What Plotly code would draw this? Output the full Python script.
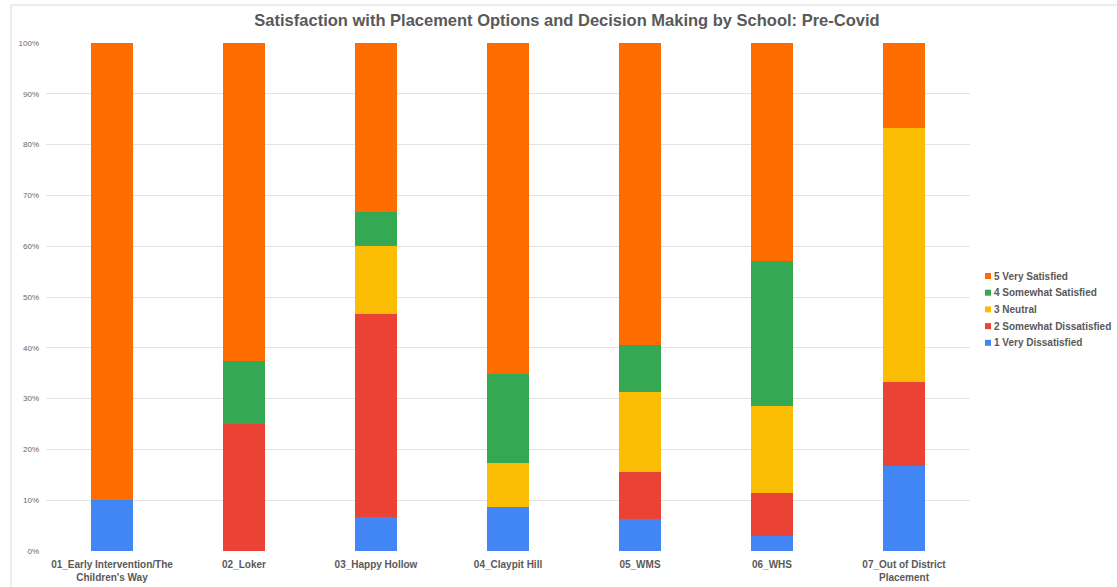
import plotly.graph_objects as go

# Share of responses per school for each satisfaction level (percent)
schools = [
    "01_Early Intervention/The<br>Children's Way",
    "02_Loker",
    "03_Happy Hollow",
    "04_Claypit Hill",
    "05_WMS",
    "06_WHS",
    "07_Out of District<br>Placement",
]
very_dissatisfied = [10.0, 0.0, 6.67, 8.70, 6.25, 2.86, 16.67]
somewhat_dissatisfied = [0.0, 25.0, 40.0, 0.0, 9.38, 8.57, 16.67]
neutral = [0.0, 0.0, 13.33, 8.70, 15.63, 17.14, 50.0]
somewhat_satisfied = [0.0, 12.5, 6.67, 17.39, 9.38, 28.57, 0.0]
very_satisfied = [90.0, 62.5, 33.33, 65.21, 59.36, 42.86, 16.66]

series_names = [
    "1 Very Dissatisfied",
    "2 Somewhat Dissatisfied",
    "3 Neutral",
    "4 Somewhat Satisfied",
    "5 Very Satisfied",
]
series_values = [very_dissatisfied, somewhat_dissatisfied, neutral,
                 somewhat_satisfied, very_satisfied]
series_colors = ["#4285F4", "#EA4335", "#FBBC04", "#34A853", "#FF6D01"]

y_ticks = list(range(0, 101, 10))
y_tick_labels = [f"{v}%" for v in y_ticks]

FONT = "Liberation Sans, Arial, sans-serif"
TEXT = "#595959"
W, H = 1117, 587
L, R, T, B = 46, 147, 43, 36
PW, PH = W - L - R, H - T - B


def px_x(px):
    """Horizontal pixel position -> paper coordinate."""
    return (px - L) / PW


def px_y(py):
    """Vertical pixel position (from top) -> paper coordinate."""
    return (H - B - py) / PH


fig = go.Figure()

# Stacked bars, bottom to top
for name, vals, col in zip(series_names, series_values, series_colors):
    fig.add_trace(go.Bar(
        x=schools, y=vals, name=name,
        marker=dict(color=col, line=dict(width=0)),
        showlegend=False,
    ))

# Legend on the right: small square swatch + bold label, top level first
legend_top, legend_step = 276, 16.7
for i, (name, col) in enumerate(reversed(list(zip(series_names, series_colors)))):
    cy = legend_top + i * legend_step
    fig.add_shape(type="rect", xref="paper", yref="paper",
                  x0=px_x(985), x1=px_x(991), y0=px_y(cy + 3), y1=px_y(cy - 3),
                  fillcolor=col, line=dict(width=0))
    fig.add_annotation(xref="paper", yref="paper", x=px_x(992), y=px_y(cy),
                       xanchor="left", yanchor="middle", showarrow=False,
                       text=f"<b>{name}</b>",
                       font=dict(family=FONT, size=10, color=TEXT))

fig.update_layout(
    width=W, height=H,
    margin=dict(l=L, r=R, t=T, b=B, autoexpand=False),
    paper_bgcolor="white", plot_bgcolor="white",
    barmode="stack", bargap=0.68,
    showlegend=False,
    title=dict(
        text="<b>Satisfaction with Placement Options and Decision Making by School: Pre-Covid</b>",
        x=567 / W, xanchor="center", xref="container",
        y=1 - 20 / H, yanchor="middle", yref="container",
        font=dict(family=FONT, size=16.5, color=TEXT),
    ),
    font=dict(family=FONT, color=TEXT),
)

fig.update_xaxes(
    showgrid=False, showline=False, ticks="",
    tickfont=dict(family=FONT, size=10, color=TEXT),
    tickprefix="<b>", ticksuffix="</b>",
    ticklabelstandoff=6,
)
fig.update_yaxes(
    range=[0, 100], tickvals=y_ticks, ticktext=y_tick_labels,
    showgrid=True, gridcolor="#e3e3e3", gridwidth=1,
    zeroline=False, showline=False, ticks="",
    tickfont=dict(family=FONT, size=8, color="#666666"),
    ticklabelstandoff=6,
)

# Outer chart frame (top and left edges)
fig.add_shape(type="line", xref="paper", yref="paper",
              x0=px_x(11), x1=px_x(W + 5), y0=px_y(5), y1=px_y(5),
              line=dict(color="#d9d9d9", width=1))
fig.add_shape(type="line", xref="paper", yref="paper",
              x0=px_x(11), x1=px_x(11), y0=px_y(H + 5), y1=px_y(5),
              line=dict(color="#d9d9d9", width=1))

fig.write_html("out.html")
